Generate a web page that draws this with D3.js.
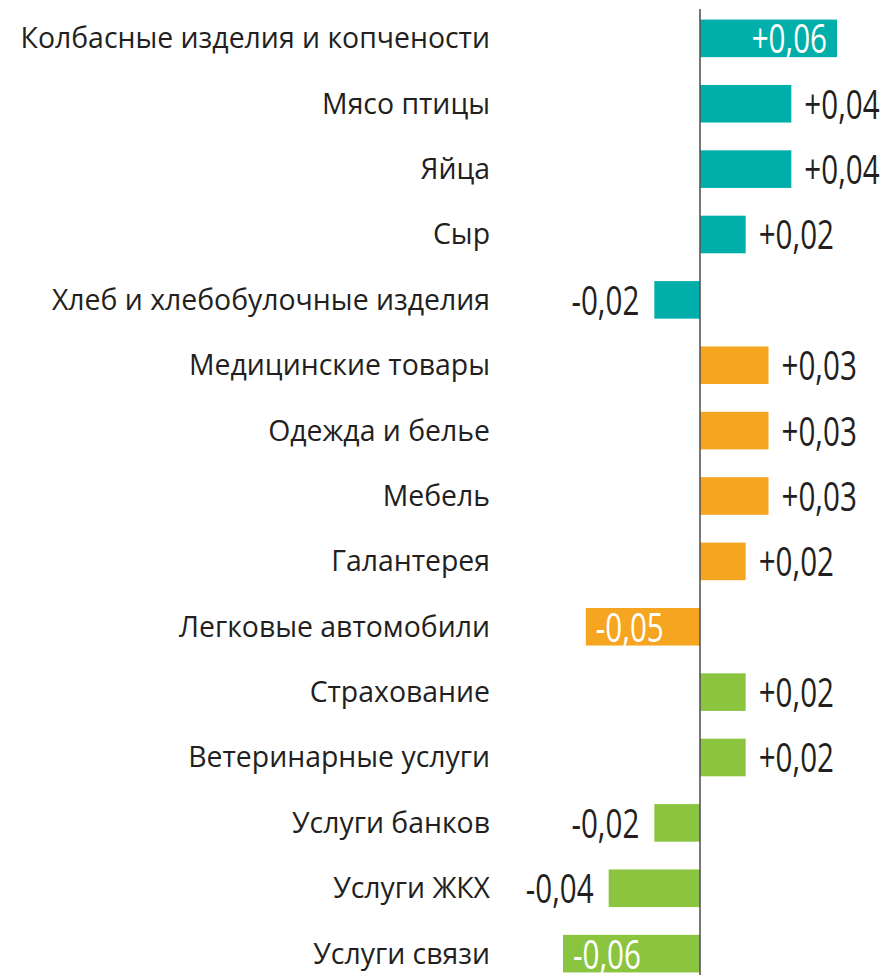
<!DOCTYPE html>
<html><head><meta charset="utf-8">
<script src="https://cdnjs.cloudflare.com/ajax/libs/d3/7.8.5/d3.min.js"></script>
<style>body{margin:0;background:#fff}svg{display:block}</style>
</head><body>
<svg id="chart" width="888" height="975"></svg>
<script>
const categories = ["Колбасные изделия и копчености","Мясо птицы","Яйца","Сыр","Хлеб и хлебобулочные изделия","Медицинские товары","Одежда и белье","Мебель","Галантерея","Легковые автомобили","Страхование","Ветеринарные услуги","Услуги банков","Услуги ЖКХ","Услуги связи"];
const values = [0.06,0.04,0.04,0.02,-0.02,0.03,0.03,0.03,0.02,-0.05,0.02,0.02,-0.02,-0.04,-0.06];
const valueLabels = ["+0,06","+0,04","+0,04","+0,02","-0,02","+0,03","+0,03","+0,03","+0,02","-0,05","+0,02","+0,02","-0,02","-0,04","-0,06"];
const groups = ["food","food","food","food","food","goods","goods","goods","goods","goods","services","services","services","services","services"];
const insideLabel = [true,false,false,false,false,false,false,false,false,true,false,false,false,false,true];
const groupColors = {food:"#00AFAA", goods:"#F6A520", services:"#8BC540"};

const svg = d3.select("#chart");
const x = d3.scaleLinear().domain([-0.06,0.06]).range([563,837]);
const y = d3.scaleBand().domain(categories).range([6.5,985.5]).paddingInner(0.425).paddingOuter(0.2);

const rows = categories.map((c,i)=>({c, v:values[i], l:valueLabels[i], g:groups[i], inside:insideLabel[i]}));

svg.selectAll("rect.bar").data(rows).join("rect")
  .attr("class","bar")
  .attr("x", d=>x(Math.min(0,d.v)))
  .attr("width", d=>Math.abs(x(d.v)-x(0)))
  .attr("y", d=>y(d.c))
  .attr("height", y.bandwidth())
  .attr("fill", d=>groupColors[d.g]);

svg.append("line")
  .attr("x1",x(0)).attr("x2",x(0)).attr("y1",9).attr("y2",975)
  .attr("stroke","#555").attr("stroke-width",1.6);

const axis = d3.axisLeft(y).tickSize(0).tickPadding(0);
const gAxis = svg.append("g").attr("transform","translate(490,0)").call(axis);
gAxis.select(".domain").remove();
gAxis.selectAll("text")
  .attr("font-family","'Open Sans', sans-serif")
  .attr("font-size",28.4)
  .attr("fill","#231f20")
  .attr("dy","0.35em");

const sx = 0.74;
svg.selectAll("text.val").data(rows).join("text")
  .attr("class","val")
  .attr("font-family","'Open Sans', sans-serif")
  .attr("font-size",40)
  .attr("dominant-baseline","central")
  .attr("fill", d=>d.inside ? "#fff" : "#231f20")
  .attr("transform", d=>{
    let px;
    if (d.v>0) px = d.inside ? x(d.v)-10 : x(d.v)+13;
    else px = d.inside ? x(d.v)+10 : x(d.v)-15;
    return `translate(${px},${y(d.c)+y.bandwidth()/2-1}) scale(${sx},1)`;
  })
  .attr("text-anchor", d=>{
    if (d.v>0) return d.inside ? "end" : "start";
    return d.inside ? "start" : "end";
  })
  .text(d=>d.l);
</script>
</body></html>
